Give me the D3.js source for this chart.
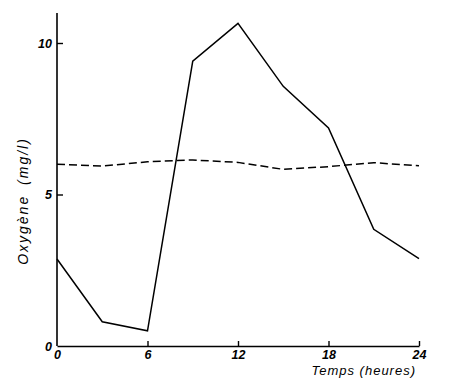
<!DOCTYPE html>
<html><head><meta charset="utf-8">
<script src="https://cdn.jsdelivr.net/npm/d3@7"></script>
<style>body{margin:0;background:#fff}svg{display:block}</style>
</head><body>
<script>
const hours = [0, 3, 6, 9, 12, 15, 18, 21, 24];
const oxygenSolid = [2.87, 0.8, 0.5, 9.4, 10.65, 8.57, 7.2, 3.85, 2.88];
const oxygenDashed = [6.0, 5.94, 6.08, 6.14, 6.06, 5.83, 5.92, 6.05, 5.95];
const xTicks = [0, 6, 12, 18, 24];
const yTicks = [0, 5, 10];
const xTitle = "Temps (heures)";
const yTitle = "Oxygène (mg/l)";

const W = 450, H = 388;
const svg = d3.select("body").append("svg").attr("width", W).attr("height", H);
const x = d3.scaleLinear().domain([0, 24]).range([57, 419]);
const y = d3.scaleLinear().domain([0, 10]).range([346, 43]);
const font = "'Liberation Sans', Arial, sans-serif";

const ax = svg.append("g").attr("transform", `translate(0,${y(0)})`)
  .call(d3.axisBottom(x).tickValues(xTicks).tickSize(-5).tickPadding(4).tickSizeOuter(0));
const ay = svg.append("g").attr("transform", `translate(${x(0)},0)`)
  .call(d3.axisLeft(y).tickValues(yTicks).tickSize(-6).tickPadding(5).tickSizeOuter(0));
[ax, ay].forEach(g => {
  g.select(".domain").attr("stroke", "#000").attr("stroke-width", 1.6);
  g.selectAll(".tick line").attr("stroke", "#000").attr("stroke-width", 1.4);
  g.selectAll(".tick text").attr("font-family", font).attr("font-size", 12.5)
    .attr("font-style", "italic").attr("font-weight", "bold").attr("fill", "#000");
});
ax.selectAll(".tick").filter(d => d === 0).select("line").remove();
ay.selectAll(".tick").filter(d => d === 0).select("line").remove();
ay.select(".domain").attr("d", `M0,13V${y(0)}`);

const line = d3.line().x((d, i) => x(hours[i])).y(d => y(d));
svg.append("path").datum(oxygenSolid).attr("d", line)
  .attr("fill", "none").attr("stroke", "#000").attr("stroke-width", 1.5).attr("stroke-linejoin", "miter");
svg.append("path").datum(oxygenDashed).attr("d", line)
  .attr("fill", "none").attr("stroke", "#000").attr("stroke-width", 1.5).attr("stroke-dasharray", "8,4");

svg.append("text").attr("x", 416).attr("y", 375).attr("text-anchor", "end")
  .attr("font-family", font).attr("font-size", 13).attr("font-style", "italic")
  .attr("letter-spacing", 1).text(xTitle);
svg.append("text").attr("transform", "translate(28,201) rotate(-90)").attr("text-anchor", "middle")
  .attr("font-family", font).attr("font-size", 14).attr("font-style", "italic")
  .attr("letter-spacing", 2).attr("word-spacing", 4).text(yTitle);
</script>
</body></html>
